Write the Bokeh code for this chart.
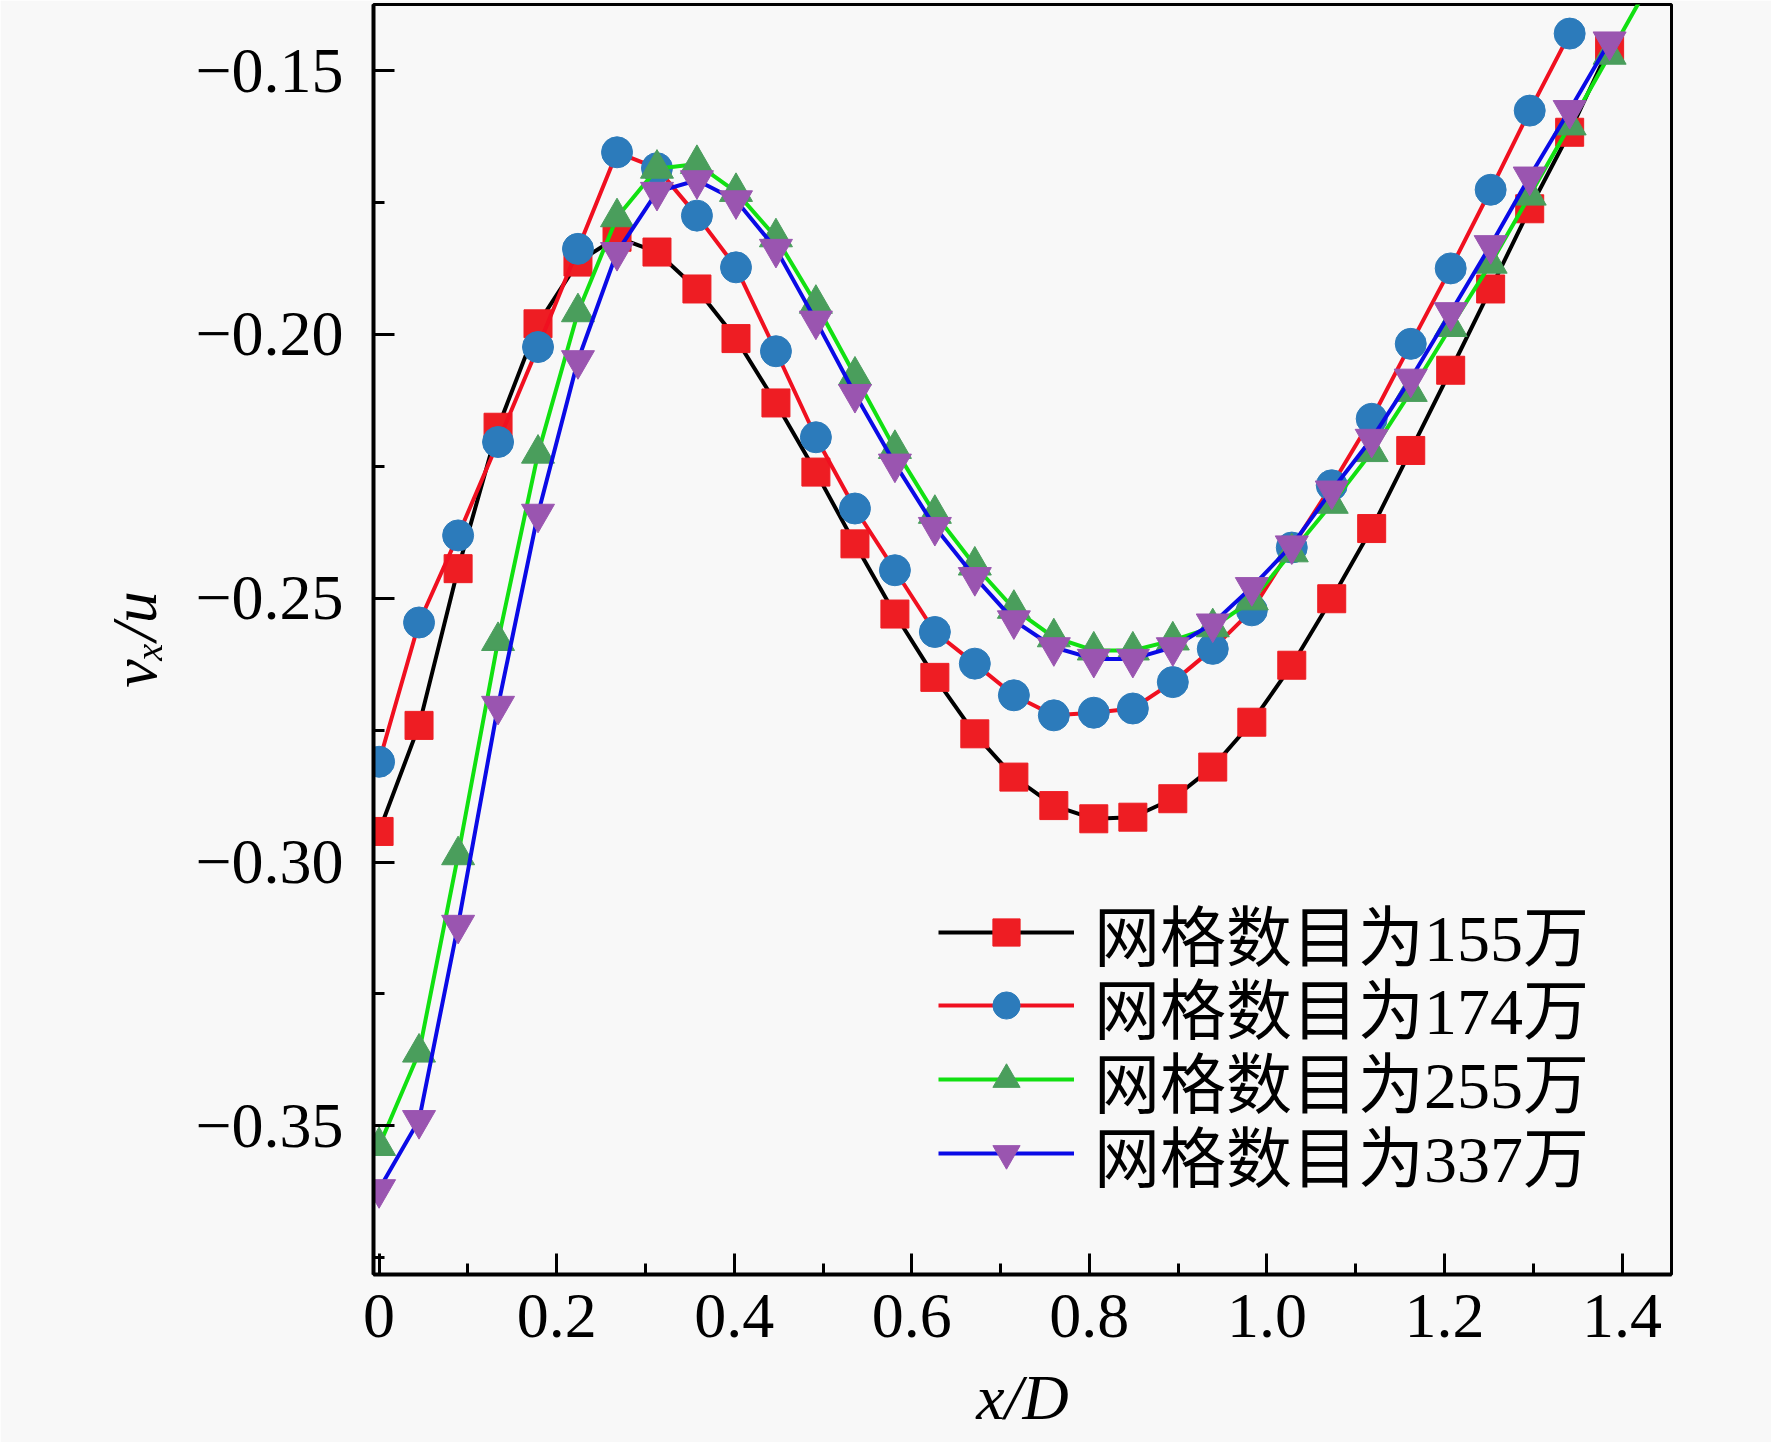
import numpy as np
from bokeh.plotting import figure
from bokeh.models import Range1d, FixedTicker, CustomJSTickFormatter, Legend, LegendItem
from bokeh.embed import file_html
from bokeh.resources import INLINE

# ---------------- data ----------------
x_d = [0.000, 0.045, 0.089, 0.134, 0.179, 0.224, 0.268, 0.313, 0.358, 0.402,
       0.447, 0.492, 0.536, 0.581, 0.626, 0.671, 0.715, 0.760, 0.805, 0.849,
       0.894, 0.939, 0.983, 1.028, 1.073, 1.118, 1.162, 1.207, 1.252, 1.296,
       1.341, 1.386, 1.430]

v155 = [-0.2942, -0.2741, -0.2444, -0.2176, -0.1980, -0.1863, -0.1816, -0.1844,
        -0.1914, -0.2008, -0.2130, -0.2261, -0.2397, -0.2530, -0.2650, -0.2757,
        -0.2839, -0.2893, -0.2918, -0.2915, -0.2880, -0.2820, -0.2735, -0.2627,
        -0.2501, -0.2368, -0.2220, -0.2068, -0.1914, -0.1762, -0.1617, -0.1455]

v174 = [-0.2810, -0.2546, -0.2381, -0.2204, -0.2024, -0.1838, -0.1655, -0.1685,
        -0.1775, -0.1873, -0.2032, -0.2195, -0.2330, -0.2447, -0.2564, -0.2624,
        -0.2684, -0.2722, -0.2717, -0.2709, -0.2659, -0.2596, -0.2523, -0.2404,
        -0.2286, -0.2160, -0.2018, -0.1875, -0.1726, -0.1576, -0.1430]

v255 = [-0.3538, -0.3361, -0.2987, -0.2581, -0.2226, -0.1958, -0.1778, -0.1686,
        -0.1677, -0.1730, -0.1816, -0.1942, -0.2078, -0.2217, -0.2340, -0.2438,
        -0.2520, -0.2574, -0.2599, -0.2599, -0.2580, -0.2555, -0.2504, -0.2413,
        -0.2321, -0.2223, -0.2109, -0.1986, -0.1866, -0.1737, -0.1604, -0.1470,
        -0.1338]

v337 = [-0.3620, -0.3489, -0.3119, -0.2704, -0.2340, -0.2049, -0.1844, -0.1730,
        -0.1708, -0.1746, -0.1838, -0.1974, -0.2113, -0.2245, -0.2365, -0.2460,
        -0.2542, -0.2593, -0.2615, -0.2615, -0.2593, -0.2548, -0.2479, -0.2400,
        -0.2296, -0.2198, -0.2084, -0.1958, -0.1831, -0.1701, -0.1575, -0.1445]

labels = ["网格数目为155万", "网格数目为174万", "网格数目为255万", "网格数目为337万"]

x_ticks = [0.0, 0.2, 0.4, 0.6, 0.8, 1.0, 1.2, 1.4]
x_minor = [0.1, 0.3, 0.5, 0.7, 0.9, 1.1, 1.3]
y_ticks = [-0.35, -0.30, -0.25, -0.20, -0.15]
y_minor = [-0.375, -0.325, -0.275, -0.225, -0.175]

# ---------------- styling ----------------
BG = "#f8f8f8"
SERIF = "Liberation Serif"
LEG_FONT = "Liberation Serif, Noto Sans CJK SC"

p = figure(frame_width=1298, frame_height=1270,
           min_border_left=373, min_border_right=100,
           min_border_top=4, min_border_bottom=168,
           x_range=Range1d(-0.0063, 1.4557), y_range=Range1d(-0.37816, -0.13749),
           output_backend="svg", toolbar_location=None,
           background_fill_color=BG, border_fill_color=BG)

p.xgrid.visible = False
p.ygrid.visible = False
p.outline_line_color = "black"
p.outline_line_width = 3

p.xaxis.ticker = FixedTicker(ticks=x_ticks, minor_ticks=x_minor)
p.yaxis.ticker = FixedTicker(ticks=y_ticks, minor_ticks=y_minor)
p.xaxis.formatter = CustomJSTickFormatter(code="return tick == 0 ? '0' : tick.toFixed(1);")
p.yaxis.formatter = CustomJSTickFormatter(code="return tick.toFixed(2).replace('-', '\u2212');")

for ax in (p.xaxis[0], p.yaxis[0]):
    ax.axis_line_width = 4
    ax.axis_line_color = "black"
    ax.major_tick_in = 21
    ax.major_tick_out = 0
    ax.minor_tick_in = 11
    ax.minor_tick_out = 0
    ax.major_tick_line_width = 3
    ax.minor_tick_line_width = 3
    ax.major_label_text_font = SERIF
    ax.major_label_text_font_size = "64px"
    ax.major_label_text_color = "black"
    ax.axis_label_text_font = SERIF
    ax.axis_label_text_font_size = "64px"
    ax.axis_label_text_font_style = "italic"
    ax.axis_label_text_color = "black"

p.xaxis.major_label_standoff = 20
p.yaxis.major_label_standoff = 30
p.xaxis.axis_label = "x/D"
p.yaxis.axis_label = "v\u2093/u"
p.xaxis.axis_label_standoff = 22
p.yaxis.axis_label_standoff = 22

series = [
    (v155, "black", "square", "#ee1d23", 28),
    (v174, "#f01020", "circle", "#2c7bbb", 31),
    (v255, "#11e011", "triangle", "#4a9e5c", 33),
    (v337, "#0a0ae6", "inverted_triangle", "#9a55b0", 33),
]

# one single-item legend per series, stacked with the reference's row pitch
legend_rows_y = [294, 221, 147, 73]   # screen offsets from the frame bottom

for (vals, lc, mk, mc, sz), lab, ly in zip(series, labels, legend_rows_y):
    xs = x_d[:len(vals)]
    r_line = p.line(xs, vals, line_color=lc, line_width=4)
    r_mark = p.scatter(xs, vals, marker=mk, size=sz, fill_color=mc, line_color=mc, line_width=1)
    leg = Legend(items=[LegendItem(label=lab, renderers=[r_line, r_mark])],
                 location=(565, ly),
                 glyph_width=136, glyph_height=68, label_height=68,
                 spacing=0, label_standoff=20, padding=0, margin=0,
                 border_line_alpha=0, background_fill_alpha=0,
                 label_text_font=LEG_FONT, label_text_font_size="66px",
                 label_text_color="black")
    p.add_layout(leg, "center")

open("out.html", "w").write(file_html(p, INLINE))
